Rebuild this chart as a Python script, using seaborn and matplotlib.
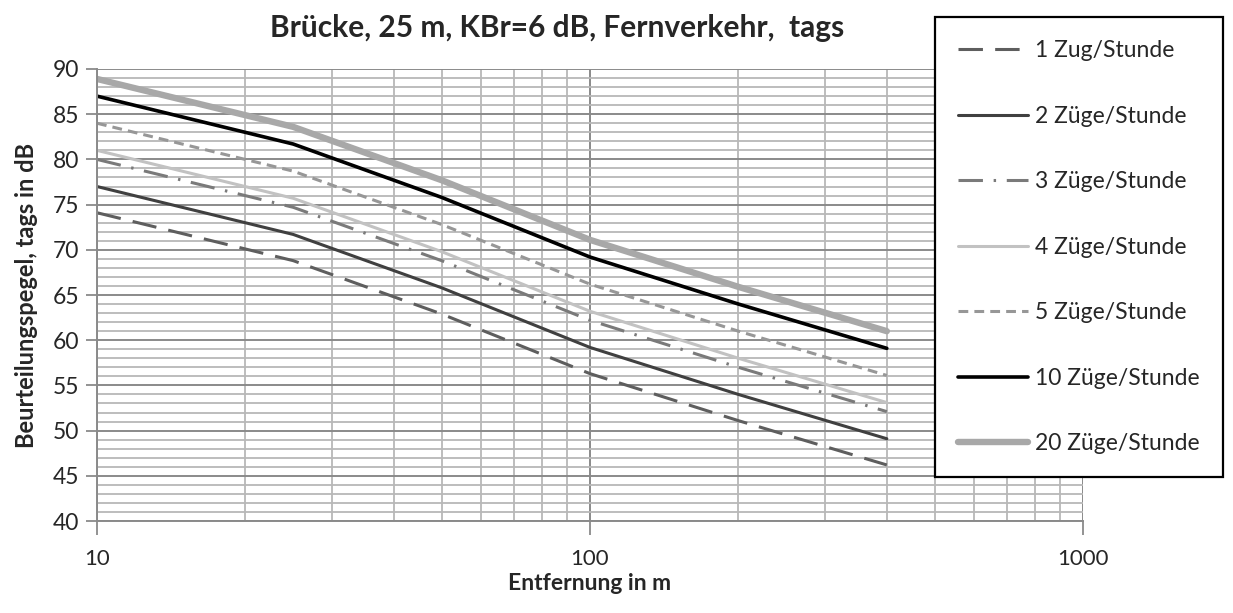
import matplotlib
matplotlib.use("Agg")
import matplotlib.pyplot as plt
from matplotlib.ticker import LogLocator, MultipleLocator, FixedLocator, NullFormatter, FixedFormatter
import seaborn as sns
import pandas as pd

# Distance in m and rating level (dB) per train frequency
distances = [10, 25, 50, 100, 200, 400]
level_1 = [74.1, 68.8, 62.9, 56.3, 51.1, 46.2]
level_2 = [77.0, 71.7, 65.8, 59.2, 54.0, 49.1]
level_3 = [80.0, 74.7, 68.8, 62.2, 57.0, 52.1]
level_4 = [81.0, 75.7, 69.8, 63.2, 58.0, 53.1]
level_5 = [84.0, 78.7, 72.8, 66.2, 61.0, 56.1]
level_10 = [87.0, 81.7, 75.8, 69.2, 64.0, 59.1]
level_20 = [88.9, 83.6, 77.7, 71.1, 65.9, 61.0]

labels = ["1 Zug/Stunde", "2 Züge/Stunde", "3 Züge/Stunde", "4 Züge/Stunde",
          "5 Züge/Stunde", "10 Züge/Stunde", "20 Züge/Stunde"]
series = [level_1, level_2, level_3, level_4, level_5, level_10, level_20]

x_ticks = [10, 100, 1000]
x_ticklabels = ["10", "100", "1000"]

styles = [
    dict(color="#5e5e5e", lw=2.2, dashes=(8, 4)),
    dict(color="#404040", lw=2.2, dashes=None),
    dict(color="#7a7a7a", lw=2.2, dashes=(8, 3.5, 0.8, 3.5)),
    dict(color="#c2c2c2", lw=2.2, dashes=None),
    dict(color="#979797", lw=2.2, dashes=(3.2, 2)),
    dict(color="#000000", lw=2.6, dashes=None),
    dict(color="#a8a8a8", lw=4.6, dashes=None),
]

sns.set_theme(style="white")
plt.rcParams["font.family"] = ["Lato", "DejaVu Sans"]

fig = plt.figure(figsize=(12.33, 6.13), dpi=100)
ax = fig.add_axes([97 / 1233, 1 - 521 / 613, (1083 - 97) / 1233, (521 - 69) / 613])

ax.set_xscale("log")
ax.set_xlim(10, 1000)
ax.set_ylim(40, 90)

# grid: minor lines per dB / per log step, major lines per 5 dB / per decade
ax.yaxis.set_major_locator(MultipleLocator(5))
ax.yaxis.set_minor_locator(MultipleLocator(1))
ax.xaxis.set_major_locator(FixedLocator(x_ticks))
ax.xaxis.set_major_formatter(FixedFormatter(x_ticklabels))
ax.xaxis.set_minor_locator(LogLocator(base=10, subs=range(2, 10)))
ax.xaxis.set_minor_formatter(NullFormatter())
ax.grid(which="minor", axis="both", color="#b8b8b8", lw=1.3)
ax.grid(which="major", axis="both", color="#8a8a8a", lw=1.4)
ax.set_axisbelow(True)

for vals, lab, st in zip(series, labels, styles):
    df = pd.DataFrame({"Entfernung": distances, "Pegel": vals})
    kw = dict(color=st["color"], lw=st["lw"], label=lab)
    if st["dashes"] is not None:
        kw["dashes"] = st["dashes"]
    sns.lineplot(data=df, x="Entfernung", y="Pegel", ax=ax, legend=False, **kw)

for s in ["top", "right"]:
    ax.spines[s].set_visible(False)
for s in ["left", "bottom"]:
    ax.spines[s].set_color("#8a8a8a")
    ax.spines[s].set_linewidth(1.4)

ax.tick_params(axis="y", which="major", direction="out", length=8, width=1.3,
               color="#8a8a8a", labelsize=16.5, pad=5, left=True)
ax.tick_params(axis="y", which="minor", left=False)
ax.tick_params(axis="x", which="major", direction="out", length=10, width=1.3,
               color="#8a8a8a", labelsize=16, pad=10, bottom=True)
ax.tick_params(axis="x", which="minor", bottom=False)

ax.set_xlabel("")
ax.set_ylabel("Beurteilungspegel, tags in dB", fontsize=17, fontweight="bold", labelpad=10)
fig.text(590 / 1233, 1 - 584 / 613, "Entfernung in m",
         ha="center", va="center", fontsize=16.5, fontweight="bold")
fig.text(557 / 1233, 1 - 28 / 613, "Brücke, 25 m, KBr=6 dB, Fernverkehr,  tags",
         ha="center", va="center", fontsize=21.5, fontweight="bold")

handles, labs = ax.get_legend_handles_labels()
leg = fig.legend(handles, labs, loc="upper left",
                 bbox_to_anchor=(935 / 1233, 1 - 17 / 613),
                 fontsize=16.5, frameon=True, fancybox=False, edgecolor="black",
                 framealpha=1, handlelength=3.05, handletextpad=0.3,
                 labelspacing=1.94, borderpad=1.02, borderaxespad=0)
leg.get_frame().set_linewidth(1.6)

fig.savefig("out.png", dpi=100)
